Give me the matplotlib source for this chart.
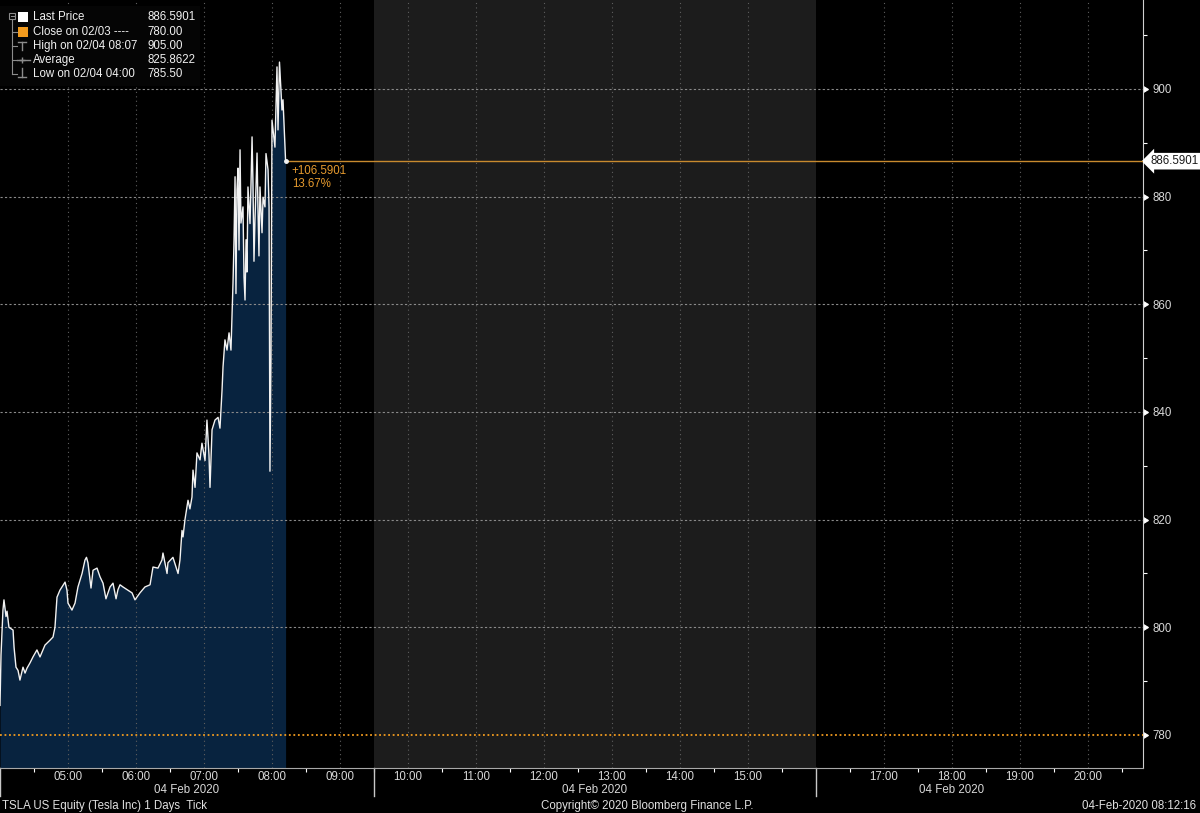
import matplotlib
matplotlib.use('Agg')
import matplotlib.pyplot as plt
import matplotlib.transforms as mtrans
import matplotlib.markers as mmarkers
from matplotlib.patches import Rectangle
import numpy as np

plt.rcParams['font.family'] = ['Liberation Sans', 'DejaVu Sans']

# TSLA ticks on 04 Feb 2020: minutes after 04:00 and trade price
tick_minutes = [
    0.0, 0.9, 2.6, 3.5, 5.3, 6.2, 7.9, 11.5, 12.4, 14.1,
    15.9, 17.6, 20.3, 22.1, 23.8, 26.5, 29.1, 32.6, 35.3, 39.7,
    44.1, 46.8, 48.5, 50.3, 52.9, 57.4, 59.1, 60.0, 63.5, 66.2,
    68.8, 72.4, 75.0, 76.3, 77.6, 80.3, 82.1, 85.6, 88.2, 90.9,
    93.5, 97.1, 99.7, 102.4, 104.1, 105.9, 108.5, 112.1, 116.5, 119.1,
    123.5, 127.9, 132.4, 135.0, 139.4, 142.9, 143.8, 147.4, 148.2, 152.6,
    157.1, 158.8, 160.6, 161.5, 163.2, 165.9, 167.6, 169.4, 170.3, 172.1,
    173.8, 176.5, 178.2, 180.9, 182.6, 184.4, 185.3, 187.1, 189.7, 192.4,
    194.1, 195.9, 196.8, 198.5, 200.3, 202.1, 203.8, 204.7, 205.6, 206.5,
    207.4, 208.2, 209.1, 210.0, 210.9, 211.8, 212.6, 214.4, 215.3, 216.2,
    217.1, 217.9, 218.8, 220.6, 221.5, 222.4, 223.2, 224.1, 225.0, 226.8,
    227.6, 228.5, 229.4, 231.2, 232.1, 233.8, 234.7, 236.5, 237.4, 238.2,
    239.1, 240.0, 242.6, 244.4, 245.3, 246.6, 248.8, 249.7, 252.0,
]
tick_prices = [
    785.5, 794.9, 803.2, 805.1, 802.0, 803.0, 800.0, 799.5, 796.3, 792.6,
    792.0, 790.2, 792.6, 791.5, 792.4, 793.4, 794.5, 795.8, 794.5, 796.7,
    797.6, 798.2, 800.0, 805.6, 806.9, 808.4, 806.9, 804.5, 803.2, 804.5,
    807.5, 810.0, 812.5, 813.0, 812.0, 807.3, 810.6, 811.0, 809.4, 808.2,
    805.3, 807.5, 808.2, 805.3, 807.0, 807.9, 807.5, 807.0, 806.4, 805.1,
    806.4, 807.5, 807.9, 811.2, 811.0, 812.5, 813.8, 810.0, 812.0, 813.0,
    810.0, 812.5, 818.0, 816.8, 820.0, 823.6, 822.0, 824.2, 829.2, 826.0,
    832.4, 831.1, 834.2, 831.0, 838.5, 832.0, 826.0, 836.7, 838.5, 839.0,
    837.0, 844.0, 848.4, 853.4, 851.5, 854.7, 851.5, 858.0, 864.0, 872.0,
    883.7, 862.0, 881.2, 885.3, 870.1, 888.7, 875.1, 878.1, 865.1, 860.8,
    872.0, 866.0, 881.8, 875.0, 882.5, 891.1, 882.5, 868.0, 875.7, 888.1,
    878.1, 869.0, 881.8, 873.3, 879.9, 878.1, 888.0, 885.0, 878.0, 829.0,
    850.0, 894.2, 889.2, 904.1, 892.4, 905.0, 896.1, 898.0, 886.5901,
]
assert len(tick_minutes) == len(tick_prices)

prev_close = 780.00
last_price = 886.5901
day_high = 905.00
day_avg = 825.8622
day_low = 785.50

legend_labels = ['Last Price', 'Close on 02/03 ----', 'High on 02/04 08:07',
                 'Average', 'Low on 02/04 04:00']
legend_values = ['886.5901', '780.00', '905.00', '825.8622', '785.50']

hour_ticks = [5, 6, 7, 8, 9, 10, 11, 12, 13, 14, 15, 17, 18, 19, 20]
hour_labels = ['%02d:00' % h for h in hour_ticks]
price_ticks = [780, 800, 820, 840, 860, 880, 900]
session_edges = [4.0, 9.5, 16.0]
session_mids = [6.75, 12.75, 18.0]
session_date = '04 Feb 2020'

footer_left = 'TSLA US Equity (Tesla Inc) 1 Days  Tick'
footer_mid = 'Copyright\u00a9 2020 Bloomberg Finance L.P.'
footer_right = '04-Feb-2020 08:12:16'

W, H = 1200, 813
NAVY = '#08233f'
ORANGE = '#f29b1e'
TXT = '#d8d8d8'
FS = 8.3

t = 4 + np.array(tick_minutes) / 60.0
p = np.array(tick_prices)

fig = plt.figure(figsize=(W / 100, H / 100), dpi=100, facecolor='black')
ax = fig.add_axes([0, 45 / H, 1143 / W, 768 / H])
ax.set_facecolor('black')
ylo, yhi = 773.87, 916.53
xhi = 4 + 1143 / 68.0
ax.set_xlim(4, xhi)
ax.set_ylim(ylo, yhi)

# regular session shading
ax.axvspan(session_edges[1], session_edges[2], color='#1c1c1c', lw=0, zorder=0)

# price area + line
ax.fill_between(t, p, ylo, color=NAVY, lw=0, zorder=2)
for h in hour_ticks:
    ax.axvline(h, color='#5e5e5e', lw=0.8, ls=(0, (1, 3)), zorder=3)
for y in price_ticks[1:]:
    ax.axhline(y, color='#8a8a8a', lw=0.8, ls=(0, (2, 2)), zorder=3)
ax.plot(t, p, color='#f2f2f2', lw=1.0, zorder=4)

# previous close and last price
ax.axhline(prev_close, color=ORANGE, lw=1.3, ls=(0, (1, 1.5)), zorder=5)
ax.hlines(last_price, t[-1], xhi, color='#c88a2e', lw=1.0, zorder=5)
ax.plot([t[-1]], [last_price], marker='o', ms=2.5, color='#f0f0f0', zorder=6)
chg = last_price - prev_close
ax.annotate('+%.4f\n%.2f%%' % (chg, chg / prev_close * 100),
            xy=(t[-1], last_price), xytext=(4.5, -2.5), textcoords='offset points',
            ha='left', va='top', color='#e69a2e', fontsize=FS, linespacing=1.15,
            zorder=7)

yblend = mtrans.blended_transform_factory(ax.transAxes, ax.transData)
ax.annotate('%.4f' % last_price, xy=(1, last_price), xycoords=yblend,
            xytext=(5.5, 0), textcoords='offset points', ha='left', va='center',
            color='#1a1a1a', fontsize=FS, annotation_clip=False,
            bbox=dict(boxstyle='larrow,pad=0.2', fc='white', ec='none'))

# axes styling
for s in ['left', 'top']:
    ax.spines[s].set_visible(False)
ax.spines['right'].set_color('#d0d0d0')
ax.spines['bottom'].set_color('#a8a8a8')

ax.set_xticks(hour_ticks)
ax.set_xticklabels(hour_labels)
ax.set_xticks(np.arange(4.5, 21, 1.0), minor=True)
ax.tick_params(axis='x', which='major', length=0, pad=2.5, colors=TXT, labelsize=FS)
ax.tick_params(axis='x', which='minor', length=3, width=0.8, color='white', direction='out')

ax.yaxis.tick_right()
ax.set_yticks(price_ticks)
ax.set_yticks(np.arange(790, 915, 20), minor=True)
ax.set_yticklabels([str(v) for v in price_ticks])
ax.tick_params(axis='y', which='major', length=5, width=0.8, pad=2, colors=TXT,
               labelsize=FS)
ax.tick_params(axis='y', which='minor', length=3, width=0.8, color='white')
for tk in ax.yaxis.get_major_ticks():
    tk.tick2line.set_marker(mmarkers.CARETRIGHTBASE)
    tk.tick2line.set_markersize(5)
    tk.tick2line.set_markerfacecolor('white')
    tk.tick2line.set_markeredgecolor('white')

# session separators and date labels under the axis
xblend = mtrans.blended_transform_factory(ax.transData, ax.transAxes)
for e in session_edges:
    ax.plot([e, e], [0, -0.036], transform=xblend, color='#c8c8c8', lw=1,
            clip_on=False)
for m in session_mids:
    ax.text(m, -0.029, session_date, transform=xblend, ha='center', va='center',
            color=TXT, fontsize=FS)

# overlay in pixel units for legend and footer
ov = fig.add_axes([0, 0, 1, 1], zorder=10)
ov.set_xlim(0, W)
ov.set_ylim(H, 0)
ov.axis('off')

ov.add_patch(Rectangle((0, 6), 200, 80, fc='#050505', ec='none'))
rows = [17, 32, 46, 60, 74]
tree = '#8c8c8c'
ov.add_patch(Rectangle((9, 13), 6, 6, fc='none', ec=tree, lw=0.8))
ov.plot([10.5, 13.5], [16, 16], color=tree, lw=0.8)
ov.plot([12, 12], [19, rows[-1]], color=tree, lw=0.8)
for r in rows[1:]:
    ov.plot([12, 17], [r, r], color=tree, lw=0.8)
ov.add_patch(Rectangle((18, 12), 10, 10, fc='white', ec='none'))
ov.add_patch(Rectangle((18, 27), 10, 10, fc=ORANGE, ec='none'))
ov.plot([22, 22], [42, 50], color=tree, lw=1)
ov.plot([18, 26], [42, 42], color=tree, lw=1)
ov.plot([17, 30], [60, 60], color=tree, lw=1)
ov.plot([22], [60], marker='+', ms=4, color=tree, mew=1)
ov.plot([22, 22], [68, 77], color=tree, lw=1)
ov.plot([18, 26], [77, 77], color=tree, lw=1)
for r, lab, val in zip(rows, legend_labels, legend_values):
    ov.text(33, r, lab, color='#f0f0f0', fontsize=FS, va='center', ha='left')
    ov.text(147, r, val, color='#f0f0f0', fontsize=FS, va='center', ha='left')

ov.text(2, 806, footer_left, color='#e0e0e0', fontsize=FS, va='center', ha='left')
ov.text(647, 806, footer_mid, color='#e0e0e0', fontsize=FS, va='center', ha='center')
ov.text(1196, 806, footer_right, color='#e0e0e0', fontsize=FS, va='center', ha='right')

fig.savefig('out.png', dpi=100, facecolor='black')
